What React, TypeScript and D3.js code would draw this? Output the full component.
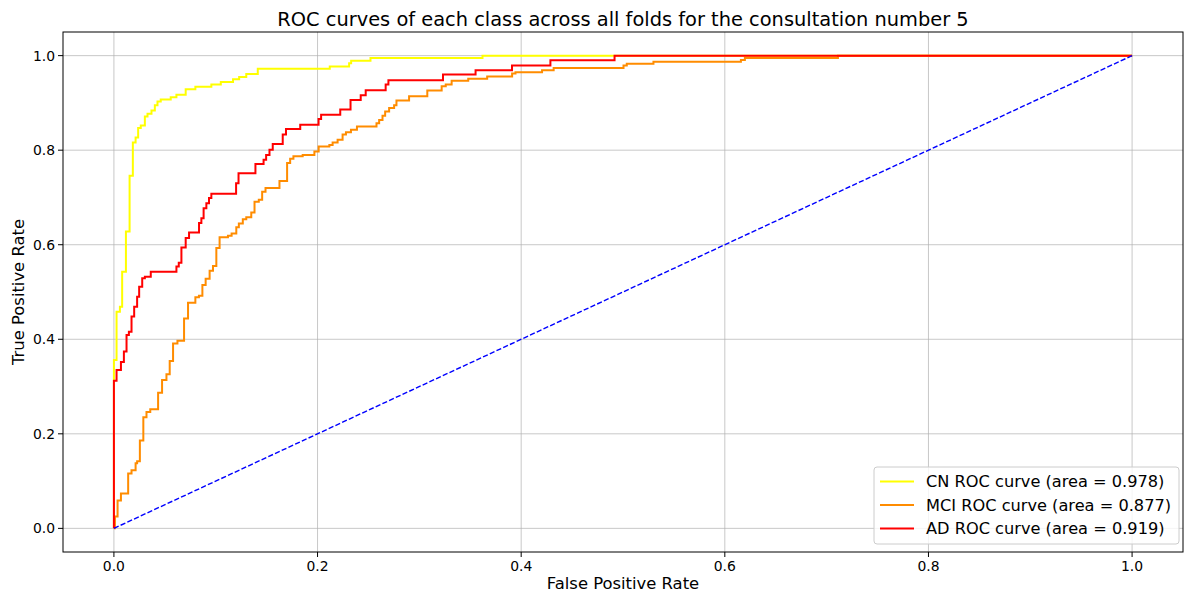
import React from "react";
import * as d3 from "d3";

// ROC operating points per class: [false positive rate, true positive rate]
const cnPoints: [number, number][] = [
  [0, 0], [0, 0.356], [0.0026, 0.458], [0.0059, 0.469], [0.0081, 0.543], [0.0118, 0.628],
  [0.0154, 0.746], [0.0186, 0.816], [0.0213, 0.827], [0.0238, 0.847], [0.0264, 0.852],
  [0.0304, 0.871], [0.033, 0.877], [0.0369, 0.884], [0.0402, 0.895], [0.0428, 0.903],
  [0.046, 0.907], [0.0558, 0.912], [0.0614, 0.917], [0.0705, 0.929], [0.08, 0.934],
  [0.0957, 0.939], [0.105, 0.944], [0.117, 0.95], [0.123, 0.955], [0.13, 0.961],
  [0.1413, 0.972], [0.212, 0.977], [0.231, 0.984], [0.233, 0.989], [0.252, 0.995],
  [0.362, 1.0], [1, 1],
];

const mciPoints: [number, number][] = [
  [0, 0], [0.001, 0.025], [0.0036, 0.059], [0.0069, 0.0735], [0.014, 0.116], [0.0173, 0.123],
  [0.0213, 0.138], [0.0228, 0.142], [0.0255, 0.186], [0.0289, 0.235], [0.032, 0.246],
  [0.0357, 0.252], [0.0434, 0.287], [0.0473, 0.314], [0.0516, 0.326], [0.0548, 0.354],
  [0.0581, 0.391], [0.0624, 0.397], [0.0689, 0.444], [0.0728, 0.477], [0.08, 0.489],
  [0.0835, 0.492], [0.0869, 0.515], [0.0901, 0.528], [0.094, 0.545], [0.0973, 0.555],
  [0.1006, 0.593], [0.1038, 0.616], [0.112, 0.619], [0.1156, 0.624], [0.1202, 0.637],
  [0.1227, 0.645], [0.1266, 0.654], [0.13, 0.658], [0.1349, 0.668], [0.1381, 0.691],
  [0.1423, 0.695], [0.1456, 0.712], [0.1489, 0.72], [0.1626, 0.735], [0.1701, 0.773],
  [0.1731, 0.782], [0.1763, 0.787], [0.1854, 0.79], [0.1969, 0.797], [0.2011, 0.808],
  [0.2116, 0.811], [0.2148, 0.816], [0.2197, 0.822], [0.2246, 0.833], [0.2279, 0.838],
  [0.2328, 0.843], [0.2387, 0.85], [0.2579, 0.857], [0.2605, 0.864], [0.2638, 0.873],
  [0.2664, 0.882], [0.2703, 0.889], [0.2752, 0.895], [0.2775, 0.905], [0.2899, 0.914],
  [0.3078, 0.926], [0.3219, 0.935], [0.3259, 0.939], [0.3317, 0.947], [0.348, 0.951],
  [0.3666, 0.956], [0.3911, 0.962], [0.3944, 0.965], [0.4205, 0.969], [0.4319, 0.974],
  [0.5005, 0.979], [0.5037, 0.983], [0.5299, 0.987], [0.6158, 0.991], [0.6197, 0.995],
  [0.7111, 1.0], [1, 1],
];

const adPoints: [number, number][] = [
  [0, 0], [0, 0.312], [0.0026, 0.335], [0.0069, 0.352], [0.0098, 0.374], [0.0124, 0.409],
  [0.0147, 0.416], [0.0173, 0.448], [0.0199, 0.469], [0.0228, 0.49], [0.0248, 0.511],
  [0.0278, 0.529], [0.0304, 0.532], [0.0362, 0.543], [0.0614, 0.554], [0.0637, 0.562],
  [0.0663, 0.594], [0.0705, 0.614], [0.0738, 0.626], [0.0836, 0.646], [0.0859, 0.656],
  [0.0881, 0.677], [0.0908, 0.688], [0.0934, 0.699], [0.0957, 0.708], [0.12, 0.73],
  [0.1224, 0.751], [0.139, 0.771], [0.147, 0.78], [0.1495, 0.79], [0.1528, 0.801],
  [0.156, 0.813], [0.1658, 0.833], [0.169, 0.845], [0.183, 0.854], [0.201, 0.866],
  [0.2035, 0.875], [0.2223, 0.886], [0.2324, 0.906], [0.2424, 0.916], [0.2473, 0.927],
  [0.2669, 0.939], [0.2696, 0.948], [0.3232, 0.96], [0.3552, 0.969], [0.391, 0.979],
  [0.4287, 0.99], [0.4917, 1.0], [1, 1],
];

const chanceLine: [number, number][] = [[0, 0], [1, 1]];

const classNames = ["CN", "MCI", "AD"];
const classAreas = [0.978, 0.877, 0.919];
const classColors = ["#ffff00", "#ff8c00", "#ff0000"];
const xTicks = [0, 0.2, 0.4, 0.6, 0.8, 1.0];
const yTicks = [0, 0.2, 0.4, 0.6, 0.8, 1.0];

const W = 1184;
const H = 593;
const left = 63;
const right = 1183;
const top = 32;
const bottom = 552;
const FONT = "'DejaVu Sans', sans-serif";

export default function App() {
  const x = d3.scaleLinear().domain([-0.05, 1.05]).range([left, right]);
  const y = d3.scaleLinear().domain([-0.05, 1.05]).range([bottom, top]);

  const stepLine = d3
    .line<[number, number]>()
    .x((d) => x(d[0]))
    .y((d) => y(d[1]))
    .curve(d3.curveStepAfter);
  const straight = d3
    .line<[number, number]>()
    .x((d) => x(d[0]))
    .y((d) => y(d[1]));

  const series = [cnPoints, mciPoints, adPoints];

  const legX = 874;
  const legY = 467;
  const legW = 305;
  const legH = 77;

  return (
    <svg
      width={W}
      height={H}
      style={{ position: "absolute", left: 0, top: 0, background: "#fff" }}
      fontFamily={FONT}
    >
      <rect x={0} y={0} width={W} height={H} fill="#fff" />
      <defs>
        <clipPath id="plotArea">
          <rect x={left} y={top} width={right - left} height={bottom - top} />
        </clipPath>
      </defs>

      {/* grid */}
      <g stroke="#b0b0b0" strokeOpacity={0.7} strokeWidth={1}>
        {xTicks.map((t) => (
          <line key={"gx" + t} x1={x(t)} x2={x(t)} y1={top} y2={bottom} />
        ))}
        {yTicks.map((t) => (
          <line key={"gy" + t} x1={left} x2={right} y1={y(t)} y2={y(t)} />
        ))}
      </g>

      {/* curves */}
      <g clipPath="url(#plotArea)" fill="none" strokeLinejoin="miter">
        {series.map((pts, i) => (
          <path key={classNames[i]} d={stepLine(pts) || ""} stroke={classColors[i]} strokeWidth={2} />
        ))}
        <path d={straight(chanceLine) || ""} stroke="#0000ff" strokeWidth={1.4} strokeDasharray="5.2,2.2" />
      </g>

      {/* spines */}
      <rect x={left} y={top} width={right - left} height={bottom - top} fill="none" stroke="#000" strokeWidth={1} />

      {/* ticks */}
      <g fontSize={13.9} fill="#000">
        {xTicks.map((t) => (
          <g key={"tx" + t}>
            <line x1={x(t)} x2={x(t)} y1={bottom} y2={bottom + 5} stroke="#000" />
            <text x={x(t)} y={bottom + 19} textAnchor="middle">
              {t.toFixed(1)}
            </text>
          </g>
        ))}
        {yTicks.map((t) => (
          <g key={"ty" + t}>
            <line x1={left - 5} x2={left} y1={y(t)} y2={y(t)} stroke="#000" />
            <text x={left - 8} y={y(t) + 5} textAnchor="end">
              {t.toFixed(1)}
            </text>
          </g>
        ))}
      </g>

      {/* axis labels and title */}
      <text x={(left + right) / 2} y={589} textAnchor="middle" fontSize={16.4}>
        False Positive Rate
      </text>
      <text
        transform={`translate(24,${(top + bottom) / 2}) rotate(-90)`}
        textAnchor="middle"
        fontSize={16.4}
      >
        True Positive Rate
      </text>
      <text x={(left + right) / 2} y={26} textAnchor="middle" fontSize={19.4}>
        ROC curves of each class across all folds for the consultation number 5
      </text>

      {/* legend */}
      <g>
        <rect
          x={legX}
          y={legY}
          width={legW}
          height={legH}
          rx={3}
          fill="#fff"
          fillOpacity={0.8}
          stroke="#cccccc"
          strokeWidth={1}
        />
        {classNames.map((name, i) => {
          const cy = legY + 14.5 + i * 23.5;
          return (
            <g key={"leg" + name}>
              <line x1={880} x2={914} y1={cy} y2={cy} stroke={classColors[i]} strokeWidth={2} />
              <text x={926} y={cy + 5.5} fontSize={16.2}>
                {`${name} ROC curve (area = ${classAreas[i].toFixed(3)})`}
              </text>
            </g>
          );
        })}
      </g>
    </svg>
  );
}
